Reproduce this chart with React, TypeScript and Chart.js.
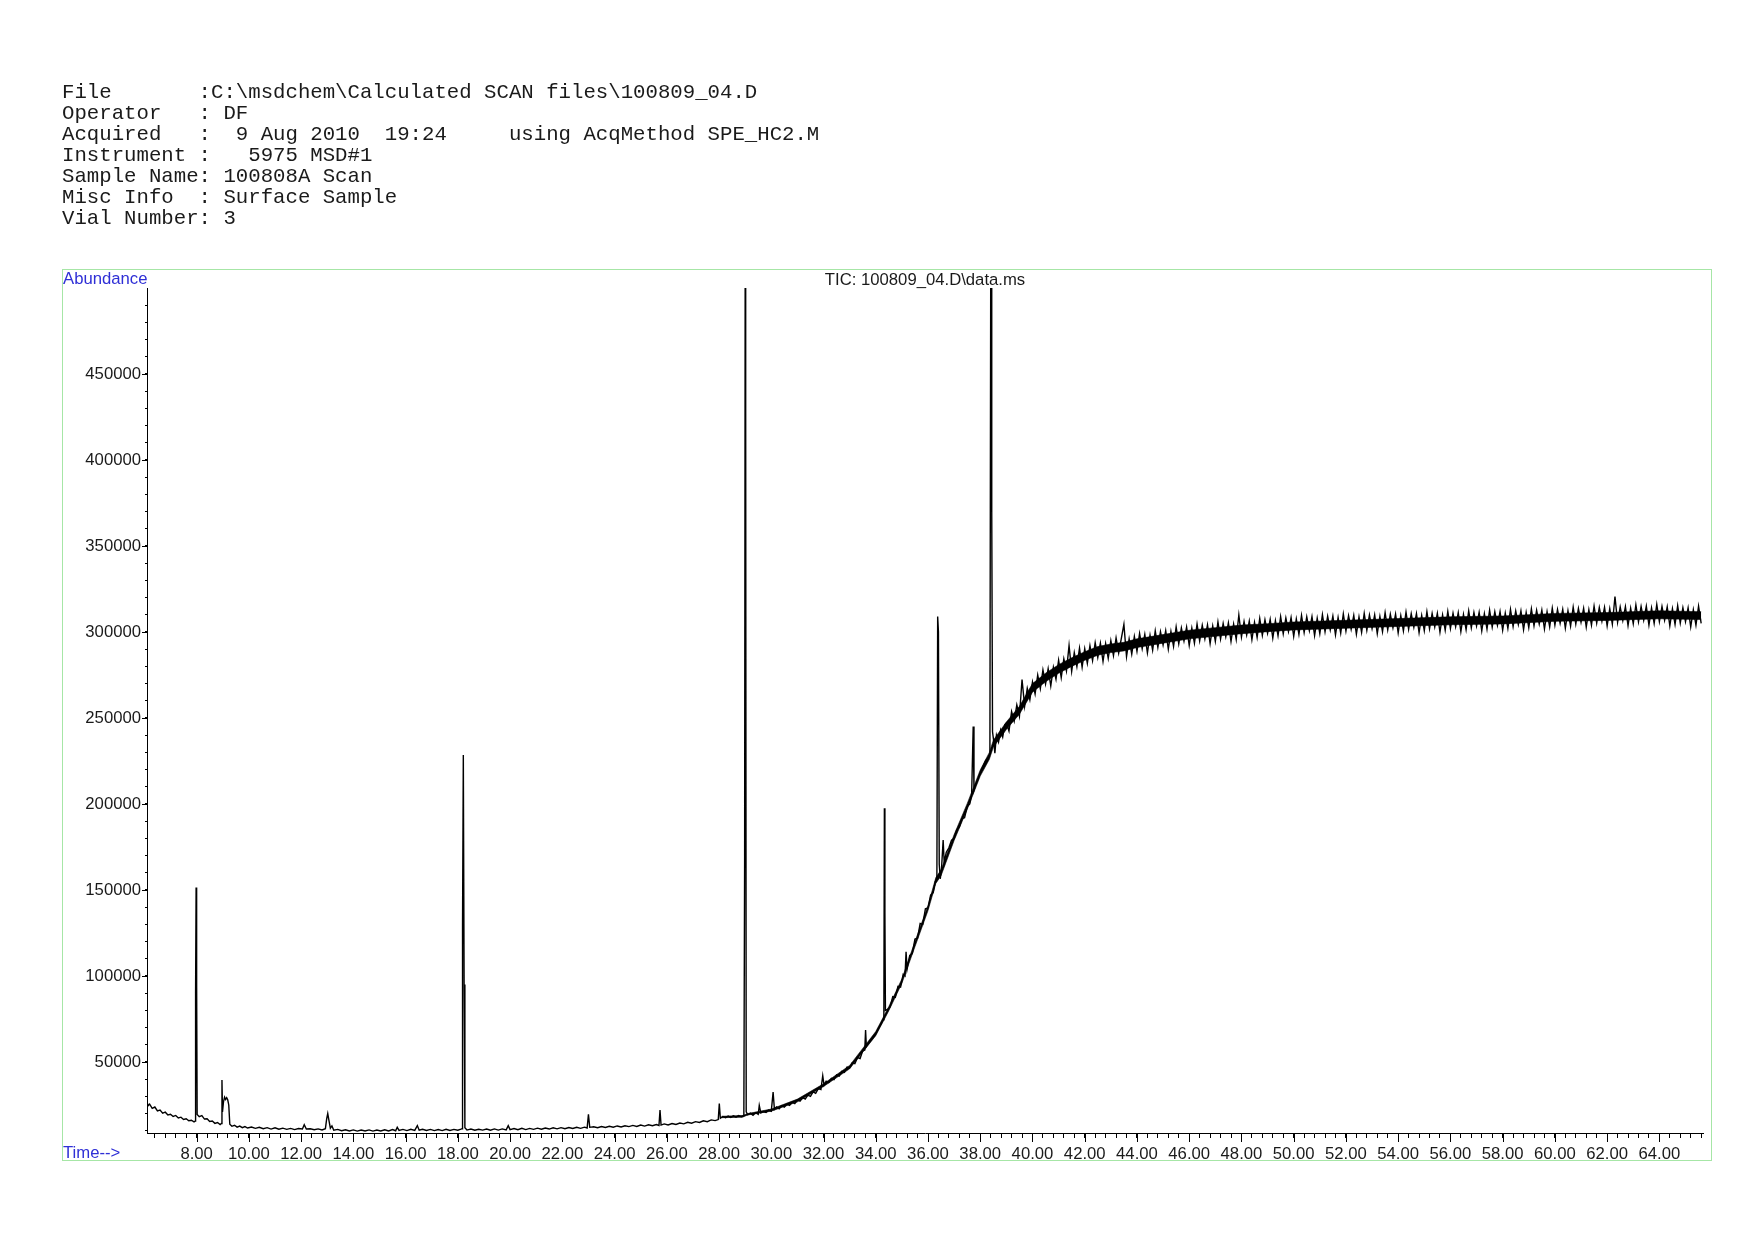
import { useEffect, useRef } from 'react';
import { Chart, registerables } from 'chart.js';

Chart.register(...registerables);

const headerLines = [
  'File       :C:\\msdchem\\Calculated SCAN files\\100809_04.D',
  'Operator   : DF',
  'Acquired   :  9 Aug 2010  19:24     using AcqMethod SPE_HC2.M',
  'Instrument :   5975 MSD#1',
  'Sample Name: 100808A Scan',
  'Misc Info  : Surface Sample',
  'Vial Number: 3',
];
const plotTitle = 'TIC: 100809_04.D\\data.ms';
const yAxisTitle = 'Abundance';
const xAxisTitle = 'Time-->';

const timeMin = 6.1;
const timeMax = 65.67;
const abundanceMin = 8700;
const abundanceMax = 500000;

const xLabelledTimes = [8, 10, 12, 14, 16, 18, 20, 22, 24, 26, 28, 30, 32, 34, 36, 38, 40, 42, 44, 46, 48, 50, 52, 54, 56, 58, 60, 62, 64];
const yLabelledValues = [50000, 100000, 150000, 200000, 250000, 300000, 350000, 400000, 450000];

// [time (min), abundance]
const earlyTrace: [number, number][] = [
  [6.1, 27000], [6.14, 24500], [6.2, 25500], [6.3, 23000], [6.4, 23800], [6.5, 21500], [6.6, 22000], [6.7, 20200],
  [6.8, 20800], [6.9, 19200], [7.0, 19600], [7.1, 18300], [7.2, 18900], [7.3, 17400], [7.4, 17900], [7.5, 16600],
  [7.6, 17000], [7.7, 15800], [7.8, 16100], [7.9, 15200], [7.94, 15600], [7.96, 90000], [7.98, 151500], [8.0, 95000],
  [8.02, 19500], [8.1, 18200], [8.2, 18800], [8.3, 16800], [8.4, 17000], [8.5, 15400], [8.6, 15700], [8.7, 14300],
  [8.8, 14800], [8.9, 13600], [8.95, 14200], [8.97, 39500], [8.99, 21000], [9.03, 27000], [9.07, 29500], [9.11, 28200],
  [9.15, 29200], [9.19, 28000], [9.23, 25000], [9.27, 13800], [9.35, 12600], [9.45, 13200], [9.55, 12100], [9.65, 12700],
  [9.75, 11800], [9.85, 12400], [9.95, 11600], [10.1, 12200], [10.25, 11400], [10.4, 12000], [10.55, 11200], [10.7, 11800],
  [10.85, 11000], [11.0, 11700], [11.15, 10900], [11.3, 11500], [11.45, 10800], [11.6, 11400], [11.75, 10700], [11.9, 11300],
  [12.05, 11000], [12.12, 13500], [12.2, 11000], [12.35, 11200], [12.5, 10600], [12.65, 11100], [12.8, 10500], [12.93, 11200],
  [12.98, 17000], [13.02, 20000], [13.06, 16500], [13.12, 11500], [13.18, 12800], [13.25, 10300], [13.4, 10800], [13.55, 10000],
  [13.7, 10600], [13.85, 9900], [14.0, 10500], [14.15, 9800], [14.3, 10400], [14.45, 9900], [14.6, 10500], [14.75, 9800],
  [14.9, 10400], [15.05, 9900], [15.2, 10600], [15.35, 9900], [15.5, 10700], [15.62, 10000], [15.68, 12000], [15.75, 10200],
  [15.9, 10800], [16.05, 10100], [16.2, 10900], [16.35, 10200], [16.45, 13000], [16.52, 10300], [16.65, 10900], [16.8, 10200],
  [16.95, 10800], [17.1, 10100], [17.25, 10700], [17.4, 10100], [17.55, 10900], [17.7, 10200], [17.85, 10800], [18.0, 10300],
  [18.12, 10900], [18.16, 11200], [18.18, 130000], [18.21, 228500], [18.24, 95000], [18.27, 11800], [18.35, 10400], [18.5, 11000],
  [18.65, 10300], [18.8, 10900], [18.95, 10400], [19.1, 11000], [19.25, 10300], [19.4, 11100], [19.55, 10400], [19.7, 11100],
  [19.85, 10500], [19.93, 13000], [20.0, 10700], [20.15, 11300], [20.3, 10600], [20.45, 11400], [20.6, 10700], [20.75, 11400],
  [20.9, 10800], [21.05, 11500], [21.2, 10900], [21.35, 11600], [21.5, 11000], [21.65, 11700], [21.8, 11100], [21.95, 11800],
  [22.1, 11200], [22.25, 11900], [22.4, 11300], [22.55, 12000], [22.7, 11400], [22.85, 12100], [22.95, 11600], [23.0, 19500],
  [23.05, 12000], [23.2, 12300], [23.35, 11800], [23.5, 12500], [23.65, 11900], [23.8, 12600], [23.95, 12100], [24.1, 12800],
  [24.25, 12200], [24.4, 12900], [24.55, 12400], [24.7, 13100], [24.85, 12500], [25.0, 13300], [25.15, 12700], [25.3, 13500],
  [25.45, 12900], [25.6, 13600], [25.7, 13100], [25.74, 22000], [25.78, 13300], [25.9, 14000], [26.05, 13400], [26.2, 14200],
  [26.35, 13700], [26.5, 14500], [26.65, 14000], [26.8, 14900], [26.95, 14400], [27.1, 15300], [27.25, 14800], [27.4, 15800],
  [27.55, 15300], [27.7, 16300], [27.85, 15900], [27.97, 16500],
];

const riseTrace: [number, number][] = [
  [28.01, 25800], [28.05, 17300], [28.15, 18300], [28.25, 17600], [28.35, 18500], [28.45, 17800], [28.55, 18700], [28.65, 17900],
  [28.75, 18800], [28.85, 18100], [28.95, 18900], [28.98, 170000], [29.0, 500000], [29.02, 430000], [29.04, 21000], [29.1, 19300],
  [29.2, 20200], [29.3, 19000], [29.4, 20500], [29.5, 19600], [29.54, 24800], [29.6, 20400], [29.7, 21200], [29.8, 20600],
  [29.9, 22000], [30.0, 21400], [30.07, 32500], [30.12, 22500], [30.2, 23800], [30.3, 22800], [30.4, 24600], [30.5, 23800],
  [30.6, 25500], [30.7, 24800], [30.8, 26600], [30.9, 25800], [31.0, 27900], [31.1, 27200], [31.2, 29200], [31.3, 28400],
  [31.4, 30700], [31.5, 30000], [31.6, 32600], [31.7, 31800], [31.8, 34500], [31.9, 34000], [31.97, 42000], [32.02, 36500],
  [32.1, 38800], [32.2, 38000], [32.3, 40500], [32.4, 39800], [32.5, 42500], [32.6, 41800], [32.7, 44500], [32.8, 44000],
  [32.9, 47000], [33.0, 46500], [33.1, 49500], [33.2, 49000], [33.3, 52500], [33.4, 52000], [33.5, 56500], [33.58, 57000],
  [33.61, 68500], [33.64, 59000], [33.7, 60500], [33.8, 62500], [33.9, 64500], [34.0, 66500], [34.1, 69500], [34.2, 72000],
  [34.28, 74500], [34.31, 76500], [34.33, 197500], [34.35, 137000], [34.37, 80000], [34.45, 80500], [34.55, 82000], [34.65, 88000],
  [34.75, 87500], [34.85, 94000], [34.95, 93500], [35.05, 101000], [35.12, 100000], [35.16, 114000], [35.2, 104000], [35.3, 112000],
  [35.4, 113000], [35.5, 121500], [35.6, 122000], [35.7, 130500], [35.8, 130000], [35.9, 139000], [36.0, 139500], [36.1, 147000],
  [36.2, 148500], [36.28, 155000], [36.34, 157000], [36.37, 309000], [36.4, 300000], [36.43, 165000], [36.47, 156500], [36.52, 163000],
  [36.58, 179000], [36.62, 166000], [36.7, 172000], [36.8, 174500], [36.9, 179000], [37.0, 180000], [37.1, 185000], [37.2, 186500],
  [37.3, 191500], [37.4, 192000], [37.5, 198500], [37.6, 200000], [37.67, 205000], [37.73, 245000], [37.76, 208000], [37.82, 211000],
  [37.9, 214000], [38.0, 218000], [38.1, 221500], [38.2, 225000], [38.3, 227000], [38.37, 229000], [38.4, 500000], [38.42, 500000],
  [38.44, 370000], [38.47, 242000], [38.52, 236000], [38.56, 229500], [38.62, 240000], [38.7, 236000], [38.78, 243000], [38.86, 239000],
  [38.94, 246000],
];

const plateauTrace: [number, number][] = [
  [39.0, 247000], [39.1, 242400], [39.2, 253800], [39.3, 248200], [39.4, 257600], [39.5, 251000], [39.6, 272400], [39.7, 256800],
  [39.8, 267200], [39.9, 260600], [40.0, 271000], [40.1, 264000], [40.2, 275000], [40.3, 267000], [40.4, 278000], [40.5, 269800],
  [40.6, 278700], [40.7, 268600], [40.8, 279500], [40.9, 272500], [41.0, 283600], [41.1, 273500], [41.2, 284400], [41.3, 277300],
  [41.4, 292200], [41.5, 277100], [41.6, 288000], [41.7, 279800], [41.8, 290600], [41.9, 279500], [42.0, 290300], [42.1, 281700],
  [42.2, 292000], [42.3, 283400], [42.4, 293800], [42.5, 285200], [42.6, 293500], [42.7, 282900], [42.8, 293200], [42.9, 284600],
  [43.0, 295000], [43.1, 286300], [43.2, 296600], [43.3, 287800], [43.4, 296100], [43.5, 304400], [43.6, 285700], [43.7, 296000],
  [43.8, 287200], [43.9, 297500], [44.0, 288800], [44.1, 299100], [44.2, 290300], [44.3, 298600], [44.4, 287900], [44.5, 298200],
  [44.6, 289400], [44.7, 300700], [44.8, 291000], [44.9, 300200], [45.0, 292500], [45.1, 300800], [45.2, 290000], [45.3, 300300],
  [45.4, 291600], [45.5, 302900], [45.6, 293100], [45.7, 302400], [45.8, 294700], [45.9, 302900], [46.0, 292200], [46.1, 302300],
  [46.2, 293500], [46.3, 304600], [46.4, 294800], [46.5, 303900], [46.6, 296000], [46.7, 304200], [46.8, 293300], [46.9, 303500],
  [47.0, 294600], [47.1, 305800], [47.2, 295900], [47.3, 305000], [47.4, 297200], [47.5, 305300], [47.6, 294500], [47.7, 304600],
  [47.8, 295700], [47.9, 309900], [48.0, 297000], [48.1, 306100], [48.2, 298300], [48.3, 306400], [48.4, 295500], [48.5, 305600],
  [48.6, 296800], [48.7, 307900], [48.8, 298000], [48.9, 307100], [49.0, 299300], [49.1, 307400], [49.2, 296500], [49.3, 306600],
  [49.4, 297800], [49.5, 308900], [49.6, 299000], [49.7, 308100], [49.8, 300300], [49.9, 308400], [50.0, 297500], [50.1, 307600],
  [50.2, 298600], [50.3, 309700], [50.4, 299700], [50.5, 308800], [50.6, 300800], [50.7, 308900], [50.8, 297900], [50.9, 308000],
  [51.0, 299000], [51.1, 310100], [51.2, 300100], [51.3, 309200], [51.4, 301200], [51.5, 309300], [51.6, 298300], [51.7, 308400],
  [51.8, 299400], [51.9, 310500], [52.0, 300500], [52.1, 309500], [52.2, 301600], [52.3, 309700], [52.4, 298700], [52.5, 308700],
  [52.6, 299800], [52.7, 310800], [52.8, 300900], [52.9, 309900], [53.0, 302000], [53.1, 310000], [53.2, 299100], [53.3, 309100],
  [53.4, 300200], [53.5, 311200], [53.6, 301300], [53.7, 310300], [53.8, 302400], [53.9, 310400], [54.0, 299500], [54.1, 309500],
  [54.2, 300600], [54.3, 311600], [54.4, 301600], [54.5, 310600], [54.6, 302700], [54.7, 310700], [54.8, 299700], [54.9, 309700],
  [55.0, 300800], [55.1, 311800], [55.2, 301800], [55.3, 310800], [55.4, 302900], [55.5, 310900], [55.6, 299900], [55.7, 309900],
  [55.8, 301000], [55.9, 312000], [56.0, 302000], [56.1, 311000], [56.2, 303100], [56.3, 311200], [56.4, 300200], [56.5, 310200],
  [56.6, 301300], [56.7, 312300], [56.8, 302400], [56.9, 311400], [57.0, 303500], [57.1, 311500], [57.2, 300600], [57.3, 310600],
  [57.4, 301700], [57.5, 312700], [57.6, 302800], [57.7, 311800], [57.8, 303900], [57.9, 311900], [58.0, 301000], [58.1, 311000],
  [58.2, 302100], [58.3, 313100], [58.4, 303200], [58.5, 312200], [58.6, 304300], [58.7, 312300], [58.8, 301400], [58.9, 311400],
  [59.0, 302500], [59.1, 313500], [59.2, 303600], [59.3, 312600], [59.4, 304700], [59.5, 312700], [59.6, 301800], [59.7, 311800],
  [59.8, 302900], [59.9, 313900], [60.0, 304000], [60.1, 313100], [60.2, 305100], [60.3, 313200], [60.4, 302300], [60.5, 312400],
  [60.6, 303400], [60.7, 314500], [60.8, 304600], [60.9, 313700], [61.0, 305700], [61.1, 313800], [61.2, 302900], [61.3, 313000],
  [61.4, 304000], [61.5, 315100], [61.6, 305200], [61.7, 314300], [61.8, 306300], [61.9, 314400], [62.0, 303500], [62.1, 313500],
  [62.2, 304500], [62.3, 320600], [62.4, 305600], [62.5, 314600], [62.6, 306700], [62.7, 314700], [62.8, 303700], [62.9, 313800],
  [63.0, 304800], [63.1, 315800], [63.2, 305900], [63.3, 314900], [63.4, 306900], [63.5, 315000], [63.6, 304000], [63.7, 314000],
  [63.8, 305000], [63.9, 316000], [64.0, 306000], [64.1, 314900], [64.2, 306800], [64.3, 314700], [64.4, 303600], [64.5, 313500],
  [64.6, 304400], [64.7, 315300], [64.8, 305200], [64.9, 314100], [65.0, 306000], [65.1, 314000], [65.2, 303000], [65.3, 313000],
  [65.4, 304000], [65.5, 315000], [65.6, 305000],
];

// dense core of the detector noise: [time, lower edge, upper edge]
const noiseBand: [number, number, number][] = [
  [28.1, 17600, 18400], [28.9, 17900, 18900], [29.1, 19200, 20000], [30.0, 21400, 22600], [31.0, 26800, 28400],
  [32.0, 35700, 37300], [33.0, 46000, 48000], [34.0, 65300, 67700], [34.5, 79800, 82200], [35.0, 95700, 98300],
  [35.5, 117000, 120000], [36.0, 138000, 141000], [36.3, 153800, 157200], [36.5, 158300, 161700], [37.0, 178800, 182200],
  [37.5, 196800, 200200], [38.0, 216200, 219800], [38.35, 226000, 230000], [38.5, 233000, 237000], [39.0, 243300, 247700],
  [39.5, 252200, 256800], [40.0, 265000, 270000], [40.5, 271000, 276000], [41.0, 276000, 281000], [41.5, 280000, 285000],
  [42.0, 283500, 288500], [42.5, 286500, 291500], [43.0, 288000, 293000], [43.5, 289000, 294000], [44.0, 291000, 296000],
  [45.0, 293500, 298500], [46.0, 296000, 301000], [47.0, 297500, 302500], [48.0, 299000, 304000], [49.0, 300200, 304800],
  [50.0, 301200, 305800], [52.0, 302200, 306800], [54.0, 303200, 307800], [56.0, 304200, 308800], [58.0, 304700, 309300],
  [60.0, 306200, 310800], [62.0, 306700, 311300], [64.0, 307700, 312300], [65.6, 307200, 311800],
];

const TEXT_FONT = "'Liberation Sans', Arial, sans-serif";
const MONO_FONT = "'Liberation Mono', 'Courier New', monospace";
const TEXT_SIZE = 16.7;

function isMultiple(v: number, step: number) {
  return Math.abs(v / step - Math.round(v / step)) < 1e-6;
}

export default function App() {
  const ref = useRef<HTMLCanvasElement>(null);

  useEffect(() => {
    const canvas = ref.current;
    if (!canvas) return;

    const xTicks: number[] = [];
    for (let i = 0; ; i++) {
      const v = Math.round((6.4 + i * 0.4) * 10) / 10;
      if (v > timeMax) break;
      xTicks.push(v);
    }
    const yTicks: number[] = [];
    for (let v = 10000; v < abundanceMax; v += 10000) yTicks.push(v);

    const points = [...earlyTrace, ...riseTrace, ...plateauTrace].map(([x, y]) => ({ x, y }));
    const bandUpper = noiseBand.map(([x, , hi]) => ({ x, y: hi }));
    const bandLower = noiseBand.map(([x, lo]) => ({ x, y: lo }));

    const decor = {
      id: 'decor',
      afterDraw(chart: any) {
        const ctx = chart.ctx as CanvasRenderingContext2D;
        const area = chart.chartArea;
        const xs = chart.scales.x;
        const ys = chart.scales.y;
        ctx.save();
        ctx.fillStyle = '#1a1a1a';
        ctx.font = `20.7px ${MONO_FONT}`;
        ctx.textBaseline = 'middle';
        ctx.textAlign = 'left';
        headerLines.forEach((line, i) => {
          ctx.fillText(line, 62, 93 + i * 20.88);
        });
        ctx.strokeStyle = '#a6e6a6';
        ctx.lineWidth = 1;
        ctx.strokeRect(62.5, 269.5, 1649, 891);
        ctx.font = `${TEXT_SIZE}px ${TEXT_FONT}`;
        ctx.textBaseline = 'alphabetic';
        ctx.fillStyle = '#2f2fd6';
        ctx.fillText(yAxisTitle, 63, 284);
        ctx.fillText(xAxisTitle, 63, 1158);
        ctx.fillStyle = '#1a1a1a';
        ctx.textAlign = 'center';
        ctx.fillText(plotTitle, (area.left + area.right) / 2, 285);
        ctx.strokeStyle = '#000';
        ctx.beginPath();
        xLabelledTimes.forEach((t) => {
          const px = Math.round(xs.getPixelForValue(t)) + 0.5;
          ctx.moveTo(px, area.bottom);
          ctx.lineTo(px, area.bottom + 9);
        });
        yLabelledValues.forEach((v) => {
          const py = Math.round(ys.getPixelForValue(v)) + 0.5;
          ctx.moveTo(area.left - 5, py);
          ctx.lineTo(area.left, py);
        });
        ctx.stroke();
        ctx.restore();
      },
    };

    const chart = new Chart(canvas, {
      type: 'line',
      data: {
        datasets: [
          {
            data: points,
            borderColor: '#000',
            borderWidth: 1.4,
            pointRadius: 0,
            tension: 0,
            fill: false,
            order: 1,
          },
          {
            data: bandUpper,
            borderColor: '#000',
            borderWidth: 0.6,
            backgroundColor: '#000',
            pointRadius: 0,
            tension: 0,
            fill: '+1',
            order: 2,
          },
          {
            data: bandLower,
            borderColor: '#000',
            borderWidth: 0.6,
            pointRadius: 0,
            tension: 0,
            fill: false,
            order: 3,
          },
        ],
      },
      options: {
        animation: false,
        responsive: false,
        devicePixelRatio: 1,
        events: [],
        layout: { padding: { left: 62, top: 288, right: 51, bottom: 79 } },
        plugins: { legend: { display: false }, tooltip: { enabled: false }, title: { display: false } },
        scales: {
          x: {
            type: 'linear',
            min: timeMin,
            max: timeMax,
            afterBuildTicks: (s: any) => {
              s.ticks = xTicks.map((value) => ({ value }));
            },
            afterFit: (s: any) => {
              s.height = 28;
            },
            grid: { drawOnChartArea: false, tickLength: 5, color: '#000', tickWidth: 1 },
            border: { display: true, color: '#000', width: 1 },
            ticks: {
              autoSkip: false,
              maxRotation: 0,
              minRotation: 0,
              padding: 6,
              color: '#1a1a1a',
              font: { size: TEXT_SIZE, family: TEXT_FONT },
              callback: (v: any) => (isMultiple(Number(v), 2) ? Number(v).toFixed(2) : ''),
            },
          },
          y: {
            type: 'linear',
            min: abundanceMin,
            max: abundanceMax,
            afterBuildTicks: (s: any) => {
              s.ticks = yTicks.map((value) => ({ value }));
            },
            afterFit: (s: any) => {
              s.width = 85;
            },
            grid: { drawOnChartArea: false, tickLength: 2, color: '#000', tickWidth: 1 },
            border: { display: true, color: '#000', width: 1 },
            ticks: {
              autoSkip: false,
              padding: 4,
              color: '#1a1a1a',
              font: { size: TEXT_SIZE, family: TEXT_FONT },
              callback: (v: any) => (isMultiple(Number(v), 50000) ? String(v) : ''),
            },
          },
        },
      },
      plugins: [decor],
    });

    return () => chart.destroy();
  }, []);

  return (
    <div style={{ position: 'absolute', left: 0, top: 0, width: 1754, height: 1240, background: '#fff' }}>
      <canvas ref={ref} width={1754} height={1240} style={{ display: 'block' }} />
    </div>
  );
}
